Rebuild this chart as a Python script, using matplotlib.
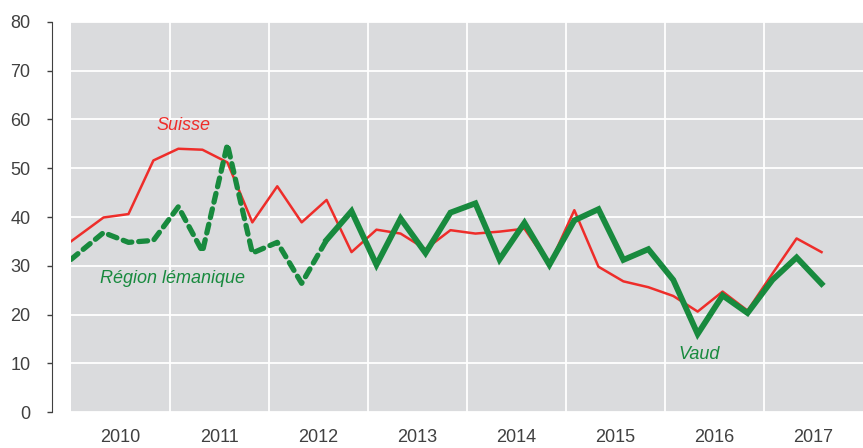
import numpy as np
import pandas as pd
import matplotlib
matplotlib.use('Agg')
import matplotlib.pyplot as plt

plt.rcParams['font.family'] = ['Liberation Sans', 'DejaVu Sans']

# dates des observations (trimestrielles)
dates = ['2010-01', '2010-05', '2010-08', '2010-11'] + \
        [f'{y}-{m:02d}' for y in range(2011, 2017) for m in (2, 5, 8, 11)] + \
        ['2017-02', '2017-05', '2017-08']
dates = pd.to_datetime(dates)

suisse = [35.0, 39.9, 40.6, 51.6, 54.0, 53.8, 51.2, 38.9, 46.3, 38.9,
          43.5, 32.8, 37.4, 36.6, 33.4, 37.3, 36.6, 37.0, 37.6, 30.2,
          41.4, 29.8, 26.8, 25.6, 23.8, 20.6, 24.7, 20.8, 28.4, 35.6,
          32.8]
lemanique = [31.3, 36.8, 34.8, 35.2, 42.1, 32.9, 54.9, 32.6, 34.8, 26.4,
             35.3]
vaud = [35.3, 41.2, 30.2, 39.7, 32.6, 40.9, 42.8, 31.3, 38.8, 30.2,
        39.3, 41.6, 31.2, 33.4, 27.1, 16.0, 23.9, 20.3, 27.1, 31.7,
        26.3]

years = list(range(2010, 2018))

rouge = '#ee2d2a'
vert = '#188a3e'
gris = '#404040'

fig = plt.figure(figsize=(8.63, 4.48), dpi=100)
ax = fig.add_axes([71/863, 36/448, 792/863, 390/448])
ax.set_facecolor('#dadbdd')

ax.plot(dates, suisse, color=rouge, linewidth=1.8, zorder=3)
ax.plot(dates[:len(lemanique)], lemanique, color=vert, linewidth=3.8,
        linestyle=(0, (1.7, 1.3)), dash_capstyle='round', zorder=4)
ax.plot(dates[len(lemanique) - 1:], vaud, color=vert, linewidth=4.2,
        solid_joinstyle='miter', zorder=4)

ax.set_xlim(pd.Timestamp('2010-01-01'), pd.Timestamp('2018-01-01'))
ax.set_ylim(0, 80)
ax.set_yticks(range(0, 81, 10))

# grille : limites d'années, libellés au milieu de l'année
ax.set_xticks([pd.Timestamp(f'{y}-01-01') for y in years[1:]])
ax.set_xticklabels([])
ax.set_xticks([pd.Timestamp(f'{y}-07-02') for y in years], minor=True)
ax.set_xticklabels([str(y) for y in years], minor=True)
ax.tick_params(axis='x', which='both', length=0, pad=12, labelsize=13, colors=gris)
ax.tick_params(axis='y', length=3.6, width=1, colors=gris, labelsize=13, pad=12)

ax.grid(True, which='major', color='white', linewidth=1.3)
ax.set_axisbelow(True)

for s in ['top', 'right', 'bottom']:
    ax.spines[s].set_visible(False)
ax.spines['left'].set_position(('outward', 13.7))
ax.spines['left'].set_color(gris)

ax.text(pd.Timestamp('2011-02-20'), 58.8, 'Suisse', color=rouge, style='italic',
        fontsize=13, ha='center', va='center')
ax.text(pd.Timestamp('2011-01-12'), 27.4, 'Région lémanique', color=vert, style='italic',
        fontsize=13, ha='center', va='center')
ax.text(pd.Timestamp('2016-05-08'), 11.7, 'Vaud', color=vert, style='italic',
        fontsize=13, ha='center', va='center')

fig.savefig('out.png', dpi=100)
